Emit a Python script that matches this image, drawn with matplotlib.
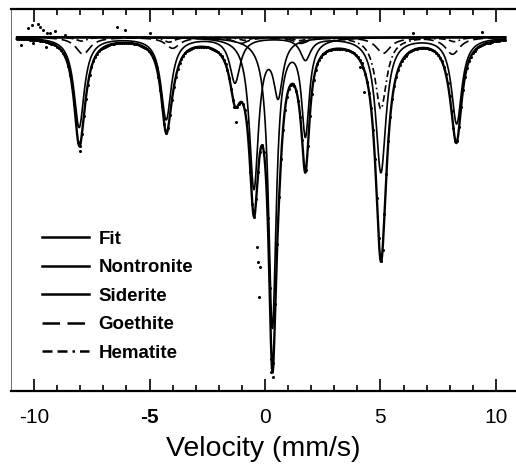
import matplotlib
matplotlib.use("Agg")
import matplotlib.pyplot as plt
from matplotlib.lines import Line2D
import numpy as np

plt.rcParams['font.family'] = ['Liberation Sans', 'DejaVu Sans']

# Fitted sub-spectra: line positions (mm/s), absorption depths, half widths
nontronite_pos = [-0.48, 0.57]
nontronite_depth = [0.0150, 0.0055]
nontronite_hw = 0.24

siderite_pos = [0.32, 1.75]
siderite_depth = [0.0290, 0.0095]
siderite_hw = 0.2

sextet_pos = [-8.05, -4.28, -1.3, 1.75, 5.02, 8.3]
sextet_depth = [0.0090, 0.0082, 0.0045, 0.0022, 0.0135, 0.0086]
sextet_hw = 0.27

goethite_pos = [-7.88, -4.0, -1.05, 1.55, 5.12, 8.12]
goethite_depth = [0.0017, 0.0011, 0.0006, 0.0006, 0.0016, 0.0017]
goethite_hw = 0.38

hematite_pos = [-7.95, -4.15, -0.9, 1.5, 5.02, 8.2]
hematite_depth = [0.0004, 0.0005, 0.0003, 0.0003, 0.0072, 0.0004]
hematite_hw = 0.3

v_start, v_stop, n_channels = -10.75, 10.4, 256
scatter_v = [-10.56, -10.26, -10.09, -10.04, -9.83, -9.74, -9.61, -9.48, -9.44,
             -9.31, -9.09, -8.66, -6.4, -6.06, -4.98, -0.26, -0.3, -0.35, -0.2,
             0.28, 0.33, 4.1, 4.3, 6.4, 9.4, 9.74, 10.04, -8.0, -1.35, -1.25]
scatter_t = [0.9992, 1.0009, 1.0012, 0.9994, 1.0013, 1.0010, 1.0007, 0.9990, 1.0004,
             1.0004, 1.0006, 1.0002, 1.0010, 1.0007, 1.0004, 0.9740, 0.9775, 0.9790, 0.9770,
             0.9665, 0.9660, 0.9970, 0.9945, 1.0004, 1.0005, 0.9994, 0.9997, 0.9886,
             0.9930, 0.9915]


def lorentz(v, pos, depth, hw):
    out = np.zeros_like(v)
    for c, d in zip(pos, depth):
        out += d / (1 + ((v - c) / hw) ** 2)
    return out


def total(v):
    return (lorentz(v, nontronite_pos, nontronite_depth, nontronite_hw)
            + lorentz(v, siderite_pos, siderite_depth, siderite_hw)
            + lorentz(v, sextet_pos, sextet_depth, sextet_hw)
            + lorentz(v, goethite_pos, goethite_depth, goethite_hw)
            + lorentz(v, hematite_pos, hematite_depth, hematite_hw))


v = np.linspace(v_start, v_stop, 1200)
fit = 1 - total(v)
vc = np.linspace(v_start, v_stop, n_channels)
data = 1 - total(vc)

fig = plt.figure(figsize=(5.16, 4.68), dpi=100)
ax = fig.add_axes([11 / 516, 1 - 391 / 468, 1 - 11 / 516, 382 / 468])

ax.plot(v, 1 - lorentz(v, nontronite_pos, nontronite_depth, nontronite_hw), color='black', lw=1.2)
ax.plot(v, 1 - lorentz(v, siderite_pos, siderite_depth, siderite_hw), color='black', lw=1.2)
ax.plot(v, 1 - lorentz(v, sextet_pos, sextet_depth, sextet_hw), color='black', lw=1.2)
ax.plot(v, 1 - lorentz(v, goethite_pos, goethite_depth, goethite_hw), color='black', lw=1.2,
        dashes=(6, 3))
ax.plot(v, 1 - lorentz(v, hematite_pos, hematite_depth, hematite_hw), color='black', lw=1.2,
        dashes=(4, 2, 4, 2, 1, 2))
ax.plot(v, fit, color='black', lw=1.7)
ax.plot([v_start, v_stop], [1, 1], color='black', lw=1.8)
ax.plot(vc, data, 'o', color='black', ms=2.2, mew=0)
ax.plot(scatter_v, scatter_t, 'o', color='black', ms=2.2, mew=0)

ax.set_xlim(-11.0, 10.87)
ax.set_ylim(1 - 0.0354, 1 + 0.0028)
ax.set_yticks([])
ax.spines['right'].set_visible(False)
ax.spines['left'].set_linewidth(0.6)
ax.spines['left'].set_color('#555555')
ax.spines['top'].set_linewidth(1.6)
ax.spines['bottom'].set_linewidth(1.6)

ax.set_xticks([-10, -5, 0, 5, 10])
ax.set_xticks(np.arange(-10, 11, 1), minor=True)
ax.tick_params(axis='x', which='both', direction='in', top=True, width=1.2)
ax.tick_params(axis='x', which='major', length=9, labelsize=15, pad=12)
ax.tick_params(axis='x', which='minor', length=4.5)
ax.set_xticklabels(['-10', '-5', '0', '5', '10'])
ax.get_xticklabels()[1].set_fontweight('bold')
ax.set_xlabel('Velocity (mm/s)', fontsize=20.5, labelpad=7)

handles = [
    Line2D([], [], color='black', lw=1.8),
    Line2D([], [], color='black', lw=1.8),
    Line2D([], [], color='black', lw=1.8),
    Line2D([], [], color='black', lw=1.8, dashes=(7, 3)),
    Line2D([], [], color='black', lw=1.8, dashes=(4, 2, 4, 2, 1, 2)),
]
labels = ['Fit', 'Nontronite', 'Siderite', 'Goethite', 'Hematite']
ax.legend(handles, labels, loc='upper left', bbox_to_anchor=(0.062, 0.42),
          frameon=False, prop={'weight': 'bold', 'size': 13.5},
          handlelength=2.5, handletextpad=0.5, labelspacing=0.61,
          borderpad=0, borderaxespad=0)

fig.savefig('out.png', dpi=100)
